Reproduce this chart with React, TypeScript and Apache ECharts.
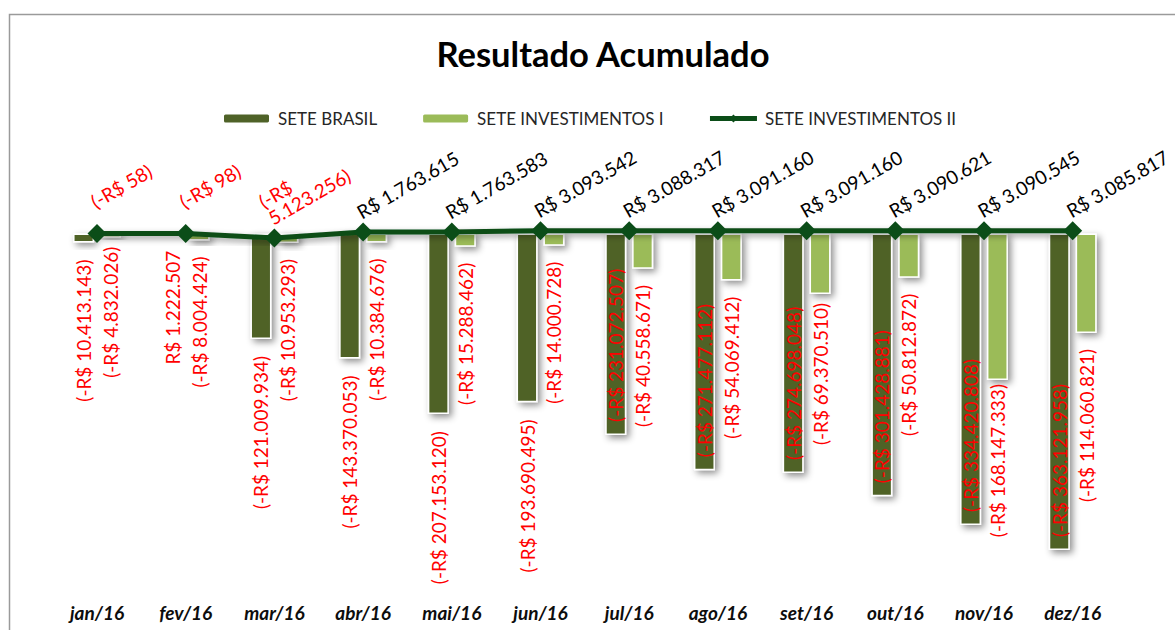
import React, { useEffect, useRef } from "react";
import * as echarts from "echarts";

const months = ["jan/16", "fev/16", "mar/16", "abr/16", "mai/16", "jun/16", "jul/16", "ago/16", "set/16", "out/16", "nov/16", "dez/16"];
const seteBrasil = [-10413143, 1222507, -121009934, -143370053, -207153120, -193690495, -231072507, -271477112, -274698048, -301428881, -334420808, -363121958];
const seteInvI = [-4832026, -8004424, -10953293, -10384676, -15288462, -14000728, -40558671, -54069412, -69370510, -50812872, -168147333, -114060821];
const seteInvII = [-58, -98, -5123256, 1763615, 1763583, 3093542, 3088317, 3091160, 3091160, 3090621, 3090545, 3085817];

const fmt = (v: number) => {
  const s = Math.abs(v).toString().replace(/\B(?=(\d{3})+(?!\d))/g, ".");
  return v < 0 ? `(-R$ ${s})` : `R$ ${s}`;
};

const FONT = "Lato";
const RED = "#FF0000";
const LINE_GREEN = "#0B4D18";

export default function App() {
  const ref = useRef<HTMLDivElement>(null);
  useEffect(() => {
    document.body.style.margin = "0";
    const chart = echarts.init(ref.current!, null, { renderer: "svg" });
    const shadow = {
      shadowColor: "rgba(0,0,0,0.45)",
      shadowBlur: 7,
      shadowOffsetX: 3,
      shadowOffsetY: 3,
    };
    const barLabelBase = {
      show: true,
      rotate: 90,
      verticalAlign: "middle",
      color: RED,
      fontFamily: FONT,
      fontSize: 19,
      formatter: (p: any) => fmt(p.value),
    };
    const brasilData = seteBrasil.map((v, i) => ({
      value: v,
      label:
        i >= 6
          ? { position: "insideBottom", align: "left", distance: 13 }
          : { position: "bottom", align: "right", distance: 17 },
    }));
    const invData = seteInvI.map((v, i) => ({
      value: v,
      label: {
        position: "bottom",
        align: "right",
        distance: i === 0 ? 4 : i === 10 ? 4 : i === 8 ? 9 : 16,
        offset: i === 0 ? [-5, 0] : [0, 0],
      },
    }));
    const lineData = seteInvII.map((v, i) => ({
      value: v,
      label: {
        color: v < 0 ? RED : "#000000",
        distance: i < 2 ? 13 : 1,
      },
    }));

    chart.setOption({
      animation: false,
      backgroundColor: "#ffffff",
      title: {
        text: "Resultado Acumulado",
        left: 598,
        top: 31,
        textAlign: "center",
        textStyle: { fontFamily: FONT, fontSize: 34.5, fontWeight: "bold", color: "#000000" },
      },
      graphic: [
        {
          type: "rect",
          left: 7,
          top: 12,
          z: -10,
          shape: { width: 1300, height: 700 },
          style: { fill: "none", stroke: "#9a9a9a", lineWidth: 1.5 },
        },
      ],
      legend: {
        left: 217,
        top: 105,
        itemWidth: 47,
        itemHeight: 10,
        itemGap: 44,
        textStyle: { fontFamily: FONT, fontSize: 17, color: "#262626", padding: [0, 0, 0, 3] },
        data: [
          { name: "SETE BRASIL" },
          { name: "SETE INVESTIMENTOS I" },
          {
            name: "SETE INVESTIMENTOS II",
            lineStyle: { width: 5, color: LINE_GREEN },
            itemStyle: { color: LINE_GREEN },
          },
        ],
      },
      grid: { left: 52.65, right: 57.95, top: 198.6, bottom: 30.4 },
      xAxis: {
        type: "category",
        data: months,
        axisLine: { show: false, onZero: false },
        axisTick: { show: false },
        axisLabel: {
          fontFamily: FONT,
          fontSize: 19,
          fontWeight: "bold",
          fontStyle: "italic",
          color: "#0d0d0d",
          margin: 3,
        },
        splitLine: { show: false },
      },
      yAxis: {
        type: "value",
        min: -420000000,
        max: 40000000,
        show: false,
        splitLine: { show: false },
      },
      series: [
        {
          name: "SETE BRASIL",
          type: "bar",
          barWidth: 21,
          barGap: "28%",
          data: brasilData,
          itemStyle: { color: "#4F6228", borderColor: "#ffffff", borderWidth: 1.5, ...shadow },
          label: barLabelBase,
        },
        {
          name: "SETE INVESTIMENTOS I",
          type: "bar",
          barWidth: 21,
          barGap: "28%",
          data: invData,
          itemStyle: { color: "#9BBB59", borderColor: "#ffffff", borderWidth: 1.5, ...shadow },
          label: barLabelBase,
        },
        {
          name: "SETE INVESTIMENTOS II",
          type: "line",
          data: lineData,
          symbol: "diamond",
          symbolSize: 19,
          color: LINE_GREEN,
          lineStyle: {
            width: 5,
            color: LINE_GREEN,
            shadowColor: "rgba(0,0,0,0.4)",
            shadowBlur: 6,
            shadowOffsetX: 2,
            shadowOffsetY: 3,
          },
          itemStyle: { color: LINE_GREEN },
          label: {
            show: true,
            position: "top",
            rotate: 30,
            align: "left",
            verticalAlign: "bottom",
            fontFamily: FONT,
            fontSize: 19,
            width: 118,
            overflow: "break",
            formatter: (p: any) => fmt(p.value),
          },
          z: 5,
        },
      ],
    });
    return () => chart.dispose();
  }, []);
  return <div ref={ref} style={{ width: 1175, height: 630, background: "#fff" }} />;
}
